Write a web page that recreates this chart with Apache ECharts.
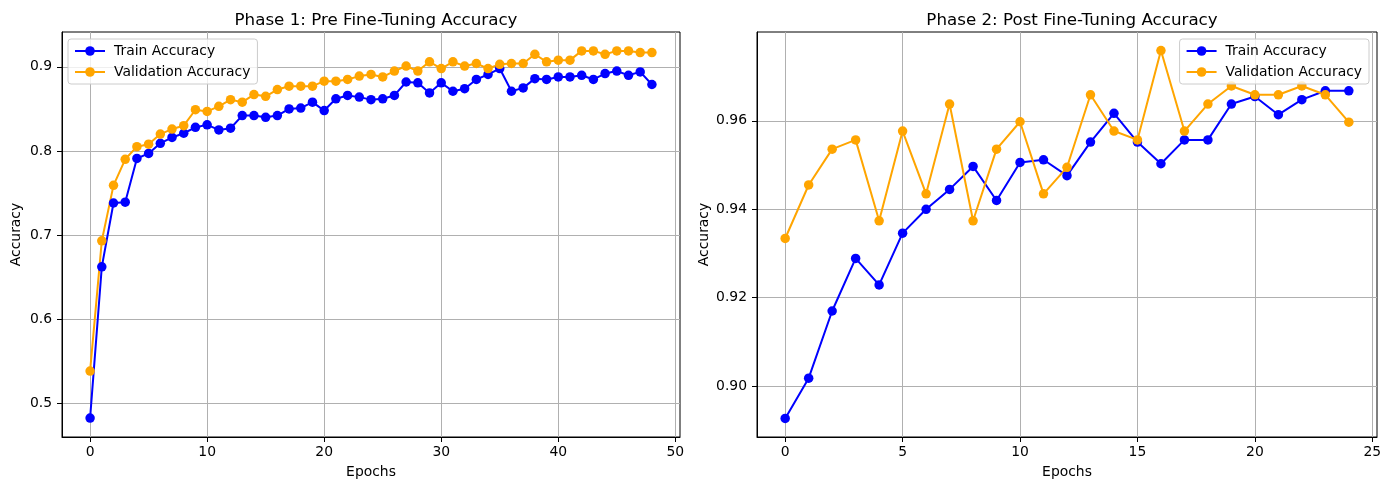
<!DOCTYPE html>
<html lang="en">
<head>
<meta charset="UTF-8">
<title>Accuracy</title>
<script src="https://cdn.jsdelivr.net/npm/echarts@6/dist/echarts.min.js"></script>
<style>
  html, body { margin: 0; padding: 0; background: #fff; }
  #main { width: 1389px; height: 490px; }
</style>
</head>
<body>
<div id="main"></div>
<script type="text/javascript">
// phase 1 (pre fine-tuning), epochs 0..48
var trainPre = [0.482, 0.662, 0.738, 0.739, 0.791, 0.797, 0.809, 0.816, 0.821, 0.828,
  0.831, 0.825, 0.827, 0.842, 0.842, 0.840, 0.842, 0.850, 0.851, 0.858,
  0.848, 0.862, 0.866, 0.864, 0.861, 0.862, 0.866, 0.882, 0.881, 0.869,
  0.881, 0.871, 0.874, 0.885, 0.891, 0.898, 0.871, 0.875, 0.886, 0.885,
  0.888, 0.888, 0.890, 0.885, 0.892, 0.895, 0.890, 0.894, 0.879];
var valPre = [0.538, 0.693, 0.759, 0.790, 0.805, 0.808, 0.820, 0.826, 0.830, 0.849,
  0.847, 0.853, 0.861, 0.858, 0.867, 0.865, 0.873, 0.877, 0.877, 0.877,
  0.883, 0.883, 0.885, 0.889, 0.891, 0.888, 0.895, 0.901, 0.895, 0.906,
  0.898, 0.906, 0.901, 0.904, 0.898, 0.903, 0.904, 0.904, 0.915, 0.906,
  0.908, 0.908, 0.919, 0.919, 0.915, 0.919, 0.919, 0.917, 0.917];

// phase 2 (post fine-tuning), epochs 0..24
var trainPost = [0.8927, 0.9018, 0.9170, 0.9289, 0.9229, 0.9346, 0.9400, 0.9445, 0.9497, 0.9420,
  0.9506, 0.9512, 0.9476, 0.9552, 0.9617, 0.9552, 0.9503, 0.9557, 0.9557, 0.9638,
  0.9655, 0.9614, 0.9648, 0.9668, 0.9668];
var valPost = [0.9334, 0.9455, 0.9536, 0.9557, 0.9374, 0.9577, 0.9435, 0.9638, 0.9374, 0.9536,
  0.9598, 0.9435, 0.9495, 0.9659, 0.9577, 0.9557, 0.9759, 0.9577, 0.9638, 0.9679,
  0.9659, 0.9659, 0.9679, 0.9659, 0.9597];

// tick labels
var xTicksPre = [0, 10, 20, 30, 40, 50];
var yTicksPre = [0.5, 0.6, 0.7, 0.8, 0.9];
var xTicksPost = [0, 5, 10, 15, 20, 25];
var yTicksPost = [0.90, 0.92, 0.94, 0.96];

var FONT = 'DejaVu Sans';

function pairs(arr) {
  return arr.map(function (v, i) { return [i, v]; });
}

function xAxisFor(idx, min, max, ticks) {
  return {
    type: 'value', gridIndex: idx, min: min, max: max,
    name: 'Epochs', nameLocation: 'middle', nameGap: 28,
    nameTextStyle: { fontFamily: FONT, fontSize: 13.9, color: '#000' },
    axisLine: { show: true, onZero: false, lineStyle: { color: '#000', width: 1 } },
    axisTick: { show: true, length: 5, customValues: ticks, lineStyle: { color: '#000' } },
    axisLabel: { customValues: ticks, margin: 8, fontFamily: FONT, fontSize: 13.9, color: '#000',
      formatter: function (v) { return String(v); } },
    splitLine: { show: true, lineStyle: { color: '#b0b0b0', width: 1 } }
  };
}

function yAxisFor(idx, min, max, ticks, dec, gap) {
  return {
    type: 'value', gridIndex: idx, min: min, max: max,
    name: 'Accuracy', nameLocation: 'middle', nameGap: gap, nameRotate: 90,
    nameTextStyle: { fontFamily: FONT, fontSize: 13.9, color: '#000' },
    axisLine: { show: true, onZero: false, lineStyle: { color: '#000', width: 1 } },
    axisTick: { show: true, length: 5, customValues: ticks, lineStyle: { color: '#000' } },
    axisLabel: { customValues: ticks, margin: 10, fontFamily: FONT, fontSize: 13.9, color: '#000',
      formatter: function (v) { return v.toFixed(dec); } },
    splitLine: { show: true, lineStyle: { color: '#b0b0b0', width: 1 } }
  };
}

function lineSeries(name, color, idx, arr) {
  return {
    name: name, type: 'line', xAxisIndex: idx, yAxisIndex: idx,
    data: pairs(arr),
    symbol: 'circle', symbolSize: 9.5,
    itemStyle: { color: color },
    lineStyle: { color: color, width: 2 },
    emphasis: { disabled: true }
  };
}

var legendBase = {
  orient: 'vertical',
  itemWidth: 30, itemHeight: 12, itemGap: 7,
  padding: [5, 7, 5, 6],
  borderColor: '#cccccc', borderWidth: 1, borderRadius: 3,
  backgroundColor: 'rgba(255,255,255,0.8)',
  textStyle: { fontFamily: FONT, fontSize: 13.9, color: '#000', padding: [0, 0, 0, 4] },
  data: ['Train Accuracy', 'Validation Accuracy']
};

var mychart = echarts.init(document.getElementById('main'), null, { renderer: 'canvas' });
var option = {
  animation: false,
  backgroundColor: '#fff',
  title: [
    { text: 'Phase 1: Pre Fine-Tuning Accuracy', left: 371, top: 7, textAlign: 'center',
      textStyle: { fontFamily: FONT, fontSize: 16.7, fontWeight: 'normal', color: '#000' } },
    { text: 'Phase 2: Post Fine-Tuning Accuracy', left: 1067, top: 7, textAlign: 'center',
      textStyle: { fontFamily: FONT, fontSize: 16.7, fontWeight: 'normal', color: '#000' } }
  ],
  legend: [
    Object.assign({}, legendBase, { left: 68, top: 39 }),
    Object.assign({}, legendBase, { right: 20, top: 39 })
  ],
  grid: [
    { left: 62, top: 32, width: 618, height: 405, show: true, borderColor: '#000', borderWidth: 1 },
    { left: 757, top: 32, width: 620, height: 405, show: true, borderColor: '#000', borderWidth: 1 }
  ],
  xAxis: [
    xAxisFor(0, -2.4, 50.4, xTicksPre),
    xAxisFor(1, -1.2, 25.2, xTicksPost)
  ],
  yAxis: [
    yAxisFor(0, 0.4595, 0.9415, yTicksPre, 1, 39),
    yAxisFor(1, 0.8885, 0.9801, yTicksPost, 2, 46)
  ],
  series: [
    lineSeries('Train Accuracy', '#0000ff', 0, trainPre),
    lineSeries('Validation Accuracy', '#ffa500', 0, valPre),
    lineSeries('Train Accuracy', '#0000ff', 1, trainPost),
    lineSeries('Validation Accuracy', '#ffa500', 1, valPost)
  ]
};
mychart.setOption(option);
</script>
</body>
</html>
